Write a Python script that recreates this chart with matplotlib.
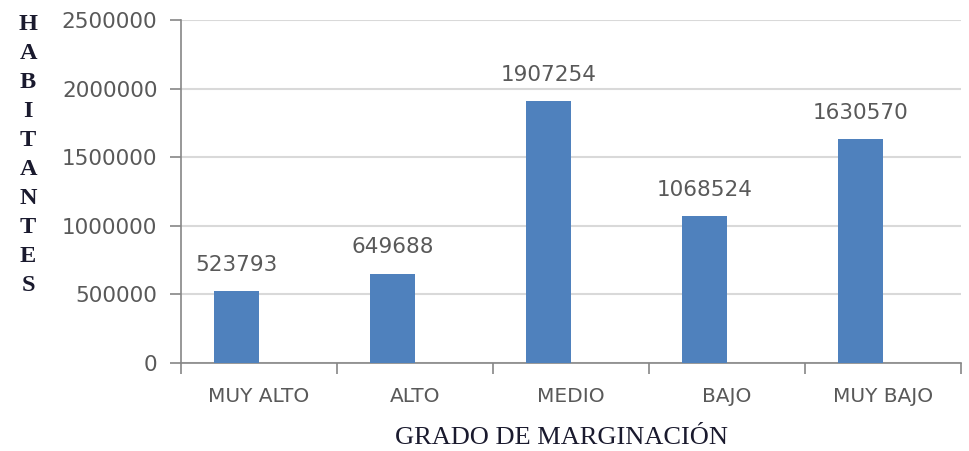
import matplotlib

matplotlib.use("Agg")
import matplotlib.pyplot as plt
import numpy as np

categories = ["MUY ALTO", "ALTO", "MEDIO", "BAJO", "MUY BAJO"]
habitantes = [523793, 649688, 1907254, 1068524, 1630570]
y_ticks = [0, 500000, 1000000, 1500000, 2000000, 2500000]

BAR = "#4f81bd"
AXIS = "#868686"
GRID = "#d9d9d9"
TEXT = "#595959"

fig = plt.figure(figsize=(9.69, 4.51), dpi=100)
ax = fig.add_axes([0.1868, 0.195, 0.8049, 0.7607])

x = np.arange(len(categories))
# Excel-style layout: the bar sits in the left half of each category slot
ax.bar(x - 0.145, habitantes, 0.29, color=BAR, zorder=3)
for xi, v in zip(x, habitantes):
    ax.annotate(str(v), (xi - 0.145, v), xytext=(0, 12), textcoords="offset points",
                ha="center", va="bottom", fontsize=15.5, color=TEXT)

ax.set_xlim(-0.5, len(categories) - 0.5)
ax.set_ylim(0, 2500000)
ax.set_yticks(y_ticks)
ax.set_yticklabels([str(t) for t in y_ticks])
ax.yaxis.grid(True, color=GRID, linewidth=1.5, zorder=0)

ax.set_xticks(x)
ax.set_xticklabels(categories)
ax.set_xticks(np.arange(len(categories) + 1) - 0.5, minor=True)
ax.tick_params(axis="x", which="major", length=0, pad=17, labelsize=14.5, labelcolor=TEXT)
ax.tick_params(axis="x", which="minor", length=8, width=1.2, color=AXIS)
ax.tick_params(axis="y", length=8, width=1.2, color=AXIS, pad=9,
               labelsize=15.5, labelcolor=TEXT)

for s in ("top", "right"):
    ax.spines[s].set_visible(False)
for s in ("left", "bottom"):
    ax.spines[s].set_color(AXIS)
    ax.spines[s].set_linewidth(1.2)

fig.text(0.579, 0.005, "GRADO DE MARGINACIÓN", ha="center", va="bottom",
         fontsize=19, family="Liberation Serif", color="#1a1a2e")
fig.text(0.029, 0.97, "\n".join("HABITANTES"), ha="center", va="top",
         fontsize=17.5, family="Liberation Serif", fontweight="bold",
         color="#1a1a2e", linespacing=1.5)

fig.savefig("out.png", dpi=100)
